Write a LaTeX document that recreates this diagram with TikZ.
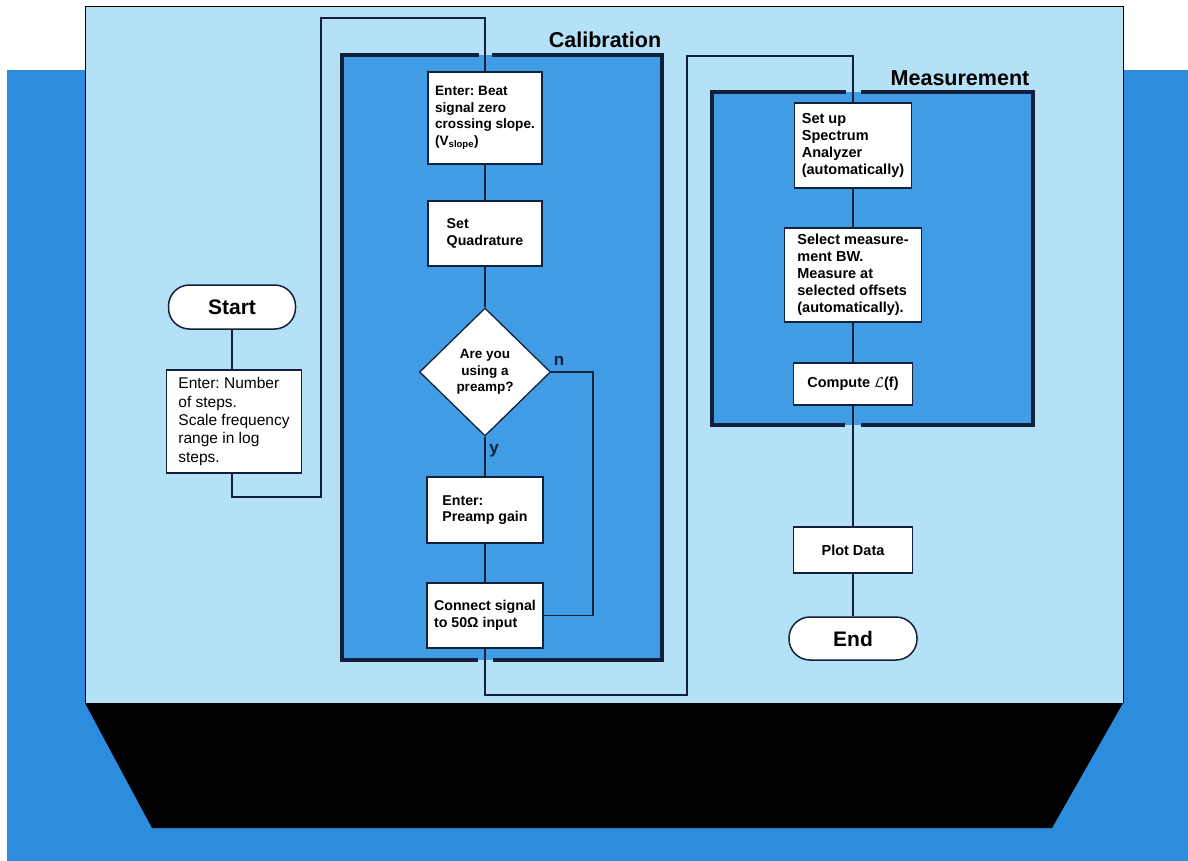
\documentclass[tikz,border=0pt]{standalone}
\usepackage{fontspec}
\setmainfont{Liberation Sans}
\frenchspacing
\usetikzlibrary{shapes.geometric}
\definecolor{band}{HTML}{2C8CDE}
\definecolor{panel}{HTML}{B4E1F5}
\definecolor{grpfill}{HTML}{409CE4}
\definecolor{ink}{HTML}{12203C}
\tikzset{
  procbox/.style={draw=ink, line width=1.3pt, fill=white, inner sep=0pt, align=left,
    font=\bfseries\fontsize{14.2}{16.7}\selectfont},
  measbox/.style={procbox, font=\bfseries\fontsize{14.5}{16.9}\selectfont},
  termbox/.style={draw=ink, line width=1.5pt, fill=white, rounded corners=21pt, inner sep=0pt,
    font=\bfseries\fontsize{21}{24}\selectfont},
  link/.style={draw=ink, line width=1.3pt},
  grpborder/.style={draw=ink, line width=3.6pt},
  heading/.style={inner sep=0pt, font=\bfseries\fontsize{21.5}{24}\selectfont},
  yn/.style={inner sep=0pt, font=\bfseries\fontsize{17}{18}\selectfont, text=ink},
}
\begin{document}
\begin{tikzpicture}[x=1pt, y=-1pt]
\useasboundingbox (0,0) rectangle (1188,861);
% background
\fill[white] (0,0) rectangle (1188,861);
\fill[band] (7,70) rectangle (1188,861);
% panel
\fill[panel] (85,6) rectangle (1123,703);
\draw[black, line width=0.9pt] (85,703) -- (85,6) -- (1123,6) -- (1123,703);
% black base
\fill[black] (85,703) -- (1123,703) -- (1052,828) -- (152,828) -- cycle;

% group frames
\fill[grpfill] (342,55) rectangle (662,660);
\draw[grpborder] (492,55) -- (662,55) -- (662,660) -- (493,660);
\draw[grpborder] (478,660) -- (342,660) -- (342,55) -- (479,55);
\fill[grpfill] (712,92) rectangle (1033,425);
\draw[grpborder] (861,92) -- (1033,92) -- (1033,425) -- (861,425);
\draw[grpborder] (845,425) -- (712,425) -- (712,92) -- (846,92);

% headings
\node[heading] (calhead) at (605,40) {Calibration};
\node[heading] (meashead) at (960,78) {Measurement};

% left column
\node[termbox, minimum width=127pt, minimum height=44pt] (startt) at (232,307) {Start};
\node[procbox, font=\fontsize{15.5}{18.3}\selectfont, minimum width=135pt, minimum height=103pt] (enum) at (234,421.5)
  {Enter: Number\\of steps.\\Scale frequency\\range in log\\steps.};

% calibration column
\node[procbox, font=\bfseries\fontsize{13.6}{16.7}\selectfont, minimum width=114pt, minimum height=92pt] (beat) at (485,118)
  {Enter: Beat\\signal zero\\crossing slope.\\(V\textsubscript{slope})};
\node[procbox, minimum width=114pt, minimum height=65pt] (quad) at (485,233.5)
  {Set\\Quadrature};
\node[diamond, draw=ink, line width=1.3pt, fill=white, inner sep=0pt, align=center,
  minimum width=131pt, minimum height=128pt, font=\bfseries\fontsize{13.5}{16.5}\selectfont] (dia) at (485,372)
  {Are you\\using a\\preamp?};
\node[procbox, minimum width=116pt, minimum height=66pt] (gain) at (485,510)
  {Enter:\\Preamp gain};
\node[procbox, minimum width=116pt, minimum height=65pt] (connect) at (485,615.5)
  {Connect signal\\to 50Ω input};
\node[yn] (nlab) at (559,361) {n};
\node[yn] (ylab) at (494,451) {y};

% measurement column
\node[measbox, minimum width=117pt, minimum height=85pt] (setup) at (853,145.5)
  {Set up\\Spectrum\\Analyzer\\(automatically)};
\node[measbox, minimum width=137pt, minimum height=94pt] (select) at (853,275)
  {Select measure-\\ment BW.\\Measure at\\selected offsets\\(automatically).};
\node[measbox, minimum width=119pt, minimum height=42pt] (compute) at (853,384)
  {Compute $\mathcal{L}$(f)};
\node[measbox, minimum width=119pt, minimum height=46pt] (plot) at (853,550)
  {Plot Data};
\node[termbox, minimum width=128pt, minimum height=43pt] (endt) at (853,638.5) {End};

% route coordinates
\coordinate (r1) at (321,497);
\coordinate (r2) at (321,18);
\coordinate (r4) at (593,372);
\coordinate (r5) at (687,695);
\coordinate (r6) at (687,56);

% connectors
\draw[link] (startt.south) -- (startt.south |- enum.north);
\draw[link] (enum.south -| startt.south) |- (r1) -- (r2) -| (beat.north);
\draw[link] (beat) -- (quad);
\draw[link] (quad) -- (dia);
\draw[link] (dia) -- (gain);
\draw[link] (gain) -- (connect);
\draw[link] (dia.east) -- (r4) |- (connect.east);
\draw[link] (connect.south) |- (r5) -- (r6) -| (setup.north);
\draw[link] (setup) -- (select);
\draw[link] (select) -- (compute);
\draw[link] (compute) -- (plot);
\draw[link] (plot) -- (endt);
\end{tikzpicture}
\end{document}
